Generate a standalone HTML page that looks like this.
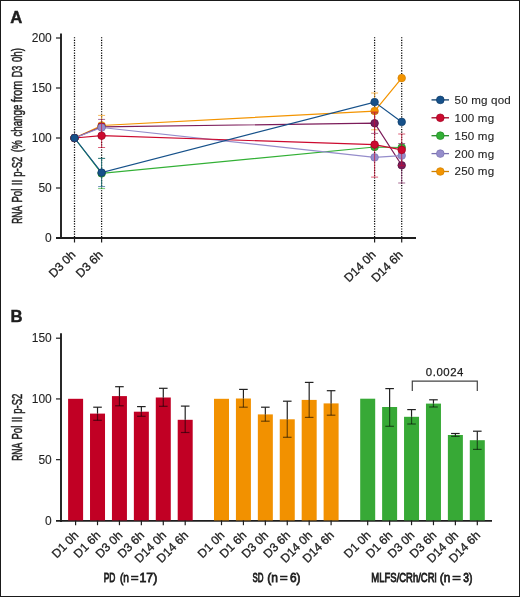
<!DOCTYPE html><html><head><meta charset="utf-8"><style>html,body{margin:0;padding:0;background:#fff;}svg{display:block;will-change:transform;}text{font-family:"Liberation Sans", sans-serif;stroke:#1e1e1e;stroke-width:0.45px;}</style></head><body>
<svg width="520" height="597" viewBox="0 0 520 597">
<rect x="0" y="0" width="520" height="597" fill="#fff"/>
<rect x="0.5" y="0.5" width="519" height="596" fill="none" stroke="#1a1a1a" stroke-width="1"/>
<text x="10.3" y="22.7" font-size="16.7" font-weight="bold" fill="#1e1e1e">A</text>
<line x1="74.5" y1="37.2" x2="74.5" y2="237" stroke="#000" stroke-width="1.25" stroke-dasharray="1.15 1.4"/>
<line x1="101.6" y1="37.2" x2="101.6" y2="237" stroke="#000" stroke-width="1.25" stroke-dasharray="1.15 1.4"/>
<line x1="374.6" y1="37.2" x2="374.6" y2="237" stroke="#000" stroke-width="1.25" stroke-dasharray="1.15 1.4"/>
<line x1="401.7" y1="37.2" x2="401.7" y2="237" stroke="#000" stroke-width="1.25" stroke-dasharray="1.15 1.4"/>
<line x1="61.0" y1="33.5" x2="61.0" y2="239.0" stroke="#1e1e1e" stroke-width="1.9"/>
<line x1="56" y1="238.0" x2="416" y2="238.0" stroke="#1e1e1e" stroke-width="1.9"/>
<text x="51.8" y="242.1" font-size="12" text-anchor="end" fill="#1e1e1e" style="stroke-width:0.1px">0</text>
<line x1="56" y1="188.0" x2="61.0" y2="188.0" stroke="#1e1e1e" stroke-width="1.2"/>
<text x="51.8" y="192.1" font-size="12" text-anchor="end" fill="#1e1e1e" style="stroke-width:0.1px">50</text>
<line x1="56" y1="138.0" x2="61.0" y2="138.0" stroke="#1e1e1e" stroke-width="1.2"/>
<text x="51.8" y="142.1" font-size="12" text-anchor="end" fill="#1e1e1e" style="stroke-width:0.1px">100</text>
<line x1="56" y1="88.0" x2="61.0" y2="88.0" stroke="#1e1e1e" stroke-width="1.2"/>
<text x="51.8" y="92.1" font-size="12" text-anchor="end" fill="#1e1e1e" style="stroke-width:0.1px">150</text>
<line x1="56" y1="38.0" x2="61.0" y2="38.0" stroke="#1e1e1e" stroke-width="1.2"/>
<text x="51.8" y="42.1" font-size="12" text-anchor="end" fill="#1e1e1e" style="stroke-width:0.1px">200</text>
<line x1="74.5" y1="238.0" x2="74.5" y2="242.5" stroke="#1e1e1e" stroke-width="1.2"/>
<line x1="101.6" y1="238.0" x2="101.6" y2="242.5" stroke="#1e1e1e" stroke-width="1.2"/>
<line x1="374.6" y1="238.0" x2="374.6" y2="242.5" stroke="#1e1e1e" stroke-width="1.2"/>
<line x1="401.7" y1="238.0" x2="401.7" y2="242.5" stroke="#1e1e1e" stroke-width="1.2"/>
<text transform="translate(76.3,255.5) rotate(-45)" font-size="12" text-anchor="end" fill="#1e1e1e" style="stroke-width:0.3px">D3 0h</text>
<text transform="translate(103.39999999999999,255.5) rotate(-45)" font-size="12" text-anchor="end" fill="#1e1e1e" style="stroke-width:0.3px">D3 6h</text>
<text transform="translate(376.40000000000003,255.5) rotate(-45)" font-size="12" text-anchor="end" fill="#1e1e1e" style="stroke-width:0.3px">D14 0h</text>
<text transform="translate(403.5,255.5) rotate(-45)" font-size="12" text-anchor="end" fill="#1e1e1e" style="stroke-width:0.3px">D14 6h</text>
<text transform="translate(22.1,223.78) rotate(-90) scale(0.6175,1)" font-size="13.8" fill="#1e1e1e" style="stroke-width:0.4px" vector-effect="non-scaling-stroke">RNA</text>
<text transform="translate(22.1,202.57) rotate(-90) scale(0.6968,1)" font-size="13.8" fill="#1e1e1e" style="stroke-width:0.4px" vector-effect="non-scaling-stroke">Pol</text>
<text transform="translate(22.1,185.14) rotate(-90) scale(0.6763,1)" font-size="13.8" fill="#1e1e1e" style="stroke-width:0.4px" vector-effect="non-scaling-stroke">II</text>
<text transform="translate(22.1,176.83) rotate(-90) scale(0.6974,1)" font-size="13.8" fill="#1e1e1e" style="stroke-width:0.4px" vector-effect="non-scaling-stroke">p-S2</text>
<text transform="translate(22.1,152.29) rotate(-90) scale(0.7182,1)" font-size="13.8" fill="#1e1e1e" style="stroke-width:0.4px" vector-effect="non-scaling-stroke">(%</text>
<text transform="translate(22.1,136.49) rotate(-90) scale(0.7031,1)" font-size="13.8" fill="#1e1e1e" style="stroke-width:0.4px" vector-effect="non-scaling-stroke">change</text>
<text transform="translate(22.1,102.26) rotate(-90) scale(0.7850,1)" font-size="13.8" fill="#1e1e1e" style="stroke-width:0.4px" vector-effect="non-scaling-stroke">from</text>
<text transform="translate(22.1,77.22) rotate(-90) scale(0.6525,1)" font-size="13.8" fill="#1e1e1e" style="stroke-width:0.4px" vector-effect="non-scaling-stroke">D3</text>
<text transform="translate(22.1,62.09) rotate(-90) scale(0.7030,1)" font-size="13.8" fill="#1e1e1e" style="stroke-width:0.4px" vector-effect="non-scaling-stroke">0h)</text>
<g stroke="#32b035" stroke-width="1" opacity="0.65"><line x1="101.6" y1="158.4" x2="101.6" y2="188.6"/><line x1="98.1" y1="158.4" x2="105.1" y2="158.4"/><line x1="98.1" y1="188.6" x2="105.1" y2="188.6"/></g>
<polyline points="74.5,138 101.6,173.4 374.6,147.0 401.7,147.5" fill="none" stroke="#32b035" stroke-width="1.2"/>
<circle cx="74.5" cy="138" r="3.8" fill="#32b035" stroke="#238a26" stroke-width="0.7"/>
<circle cx="101.6" cy="173.4" r="3.8" fill="#32b035" stroke="#238a26" stroke-width="0.7"/>
<circle cx="374.6" cy="147.0" r="3.8" fill="#32b035" stroke="#238a26" stroke-width="0.7"/>
<circle cx="401.7" cy="147.5" r="3.8" fill="#32b035" stroke="#238a26" stroke-width="0.7"/>
<g stroke="#f39400" stroke-width="1" opacity="0.65"><line x1="101.6" y1="115.4" x2="101.6" y2="135.6"/><line x1="98.1" y1="115.4" x2="105.1" y2="115.4"/><line x1="98.1" y1="135.6" x2="105.1" y2="135.6"/></g>
<g stroke="#f39400" stroke-width="1" opacity="0.65"><line x1="374.6" y1="93" x2="374.6" y2="129.8"/><line x1="371.1" y1="93" x2="378.1" y2="93"/><line x1="371.1" y1="129.8" x2="378.1" y2="129.8"/></g>
<polyline points="74.5,138 101.6,125.5 374.6,111.1 401.7,78.1" fill="none" stroke="#f39400" stroke-width="1.2"/>
<circle cx="74.5" cy="138" r="3.8" fill="#f39400" stroke="#d08000" stroke-width="0.7"/>
<circle cx="101.6" cy="125.5" r="3.8" fill="#f39400" stroke="#d08000" stroke-width="0.7"/>
<circle cx="374.6" cy="111.1" r="3.8" fill="#f39400" stroke="#d08000" stroke-width="0.7"/>
<circle cx="401.7" cy="78.1" r="3.8" fill="#f39400" stroke="#d08000" stroke-width="0.7"/>
<g stroke="#7c1c5a" stroke-width="1" opacity="0.65"><line x1="101.6" y1="119.4" x2="101.6" y2="134.2"/><line x1="98.1" y1="119.4" x2="105.1" y2="119.4"/><line x1="98.1" y1="134.2" x2="105.1" y2="134.2"/></g>
<g stroke="#7c1c5a" stroke-width="1" opacity="0.65"><line x1="374.6" y1="113" x2="374.6" y2="133.4"/><line x1="371.1" y1="113" x2="378.1" y2="113"/><line x1="371.1" y1="133.4" x2="378.1" y2="133.4"/></g>
<g stroke="#7c1c5a" stroke-width="1" opacity="0.65"><line x1="401.7" y1="143.5" x2="401.7" y2="183.0"/><line x1="398.2" y1="143.5" x2="405.2" y2="143.5"/><line x1="398.2" y1="183.0" x2="405.2" y2="183.0"/></g>
<polyline points="74.5,138 101.6,126.8 374.6,123.2 401.7,165.3" fill="none" stroke="#7c1c5a" stroke-width="1.2"/>
<circle cx="74.5" cy="138" r="3.8" fill="#7c1c5a" stroke="#4a0a36" stroke-width="0.7"/>
<circle cx="101.6" cy="126.8" r="3.8" fill="#7c1c5a" stroke="#4a0a36" stroke-width="0.7"/>
<circle cx="374.6" cy="123.2" r="3.8" fill="#7c1c5a" stroke="#4a0a36" stroke-width="0.7"/>
<circle cx="401.7" cy="165.3" r="3.8" fill="#7c1c5a" stroke="#4a0a36" stroke-width="0.7"/>
<polyline points="74.5,138 101.6,127.5 374.6,157.4 401.7,155.6" fill="none" stroke="#958dcb" stroke-width="1.2"/>
<circle cx="74.5" cy="138" r="3.8" fill="#958dcb" stroke="#7a72b0" stroke-width="0.7"/>
<circle cx="101.6" cy="127.5" r="3.8" fill="#958dcb" stroke="#7a72b0" stroke-width="0.7"/>
<circle cx="374.6" cy="157.4" r="3.8" fill="#958dcb" stroke="#7a72b0" stroke-width="0.7"/>
<circle cx="401.7" cy="155.6" r="3.8" fill="#958dcb" stroke="#7a72b0" stroke-width="0.7"/>
<g stroke="#cc0a2f" stroke-width="1" opacity="0.65"><line x1="101.6" y1="123.5" x2="101.6" y2="147.5"/><line x1="98.1" y1="123.5" x2="105.1" y2="123.5"/><line x1="98.1" y1="147.5" x2="105.1" y2="147.5"/></g>
<g stroke="#cc0a2f" stroke-width="1" opacity="0.65"><line x1="374.6" y1="112" x2="374.6" y2="177.1"/><line x1="371.1" y1="112" x2="378.1" y2="112"/><line x1="371.1" y1="177.1" x2="378.1" y2="177.1"/></g>
<g stroke="#cc0a2f" stroke-width="1" opacity="0.65"><line x1="401.7" y1="134.0" x2="401.7" y2="165.7"/><line x1="398.2" y1="134.0" x2="405.2" y2="134.0"/><line x1="398.2" y1="165.7" x2="405.2" y2="165.7"/></g>
<polyline points="74.5,138 101.6,135.7 374.6,144.6 401.7,149.9" fill="none" stroke="#cc0a2f" stroke-width="1.2"/>
<circle cx="74.5" cy="138" r="3.8" fill="#cc0a2f" stroke="#a00020" stroke-width="0.7"/>
<circle cx="101.6" cy="135.7" r="3.8" fill="#cc0a2f" stroke="#a00020" stroke-width="0.7"/>
<circle cx="374.6" cy="144.6" r="3.8" fill="#cc0a2f" stroke="#a00020" stroke-width="0.7"/>
<circle cx="401.7" cy="149.9" r="3.8" fill="#cc0a2f" stroke="#a00020" stroke-width="0.7"/>
<g stroke="#16518a" stroke-width="1" opacity="0.65"><line x1="101.6" y1="158.4" x2="101.6" y2="186.6"/><line x1="98.1" y1="158.4" x2="105.1" y2="158.4"/><line x1="98.1" y1="186.6" x2="105.1" y2="186.6"/></g>
<polyline points="74.5,138 101.6,172.6 374.6,102.1 401.7,121.9" fill="none" stroke="#16518a" stroke-width="1.2"/>
<circle cx="74.5" cy="138" r="3.8" fill="#16518a" stroke="#0e3c68" stroke-width="0.7"/>
<circle cx="101.6" cy="172.6" r="3.8" fill="#16518a" stroke="#0e3c68" stroke-width="0.7"/>
<circle cx="374.6" cy="102.1" r="3.8" fill="#16518a" stroke="#0e3c68" stroke-width="0.7"/>
<circle cx="401.7" cy="121.9" r="3.8" fill="#16518a" stroke="#0e3c68" stroke-width="0.7"/>
<line x1="431.5" y1="99.9" x2="449" y2="99.9" stroke="#0e3c68" stroke-width="1.3"/>
<circle cx="440.3" cy="99.9" r="3.85" fill="#16518a" stroke="#0e3c68" stroke-width="0.7"/>
<text x="454.6" y="103.80000000000001" font-size="11.6" letter-spacing="0.17" fill="#1e1e1e" style="stroke-width:0.1px">50 mg qod</text>
<line x1="431.5" y1="117.80000000000001" x2="449" y2="117.80000000000001" stroke="#a00020" stroke-width="1.3"/>
<circle cx="440.3" cy="117.80000000000001" r="3.85" fill="#cc0a2f" stroke="#a00020" stroke-width="0.7"/>
<text x="454.6" y="121.70000000000002" font-size="11.6" letter-spacing="0.17" fill="#1e1e1e" style="stroke-width:0.1px">100 mg</text>
<line x1="431.5" y1="135.7" x2="449" y2="135.7" stroke="#238a26" stroke-width="1.3"/>
<circle cx="440.3" cy="135.7" r="3.85" fill="#32b035" stroke="#238a26" stroke-width="0.7"/>
<text x="454.6" y="139.6" font-size="11.6" letter-spacing="0.17" fill="#1e1e1e" style="stroke-width:0.1px">150 mg</text>
<line x1="431.5" y1="153.6" x2="449" y2="153.6" stroke="#7a72b0" stroke-width="1.3"/>
<circle cx="440.3" cy="153.6" r="3.85" fill="#958dcb" stroke="#7a72b0" stroke-width="0.7"/>
<text x="454.6" y="157.5" font-size="11.6" letter-spacing="0.17" fill="#1e1e1e" style="stroke-width:0.1px">200 mg</text>
<line x1="431.5" y1="171.5" x2="449" y2="171.5" stroke="#d08000" stroke-width="1.3"/>
<circle cx="440.3" cy="171.5" r="3.85" fill="#f39400" stroke="#d08000" stroke-width="0.7"/>
<text x="454.6" y="175.4" font-size="11.6" letter-spacing="0.17" fill="#1e1e1e" style="stroke-width:0.1px">250 mg</text>
<text x="10.6" y="322" font-size="16.7" font-weight="bold" fill="#1e1e1e">B</text>
<line x1="61.0" y1="333.3" x2="61.0" y2="521.9" stroke="#1e1e1e" stroke-width="1.9"/>
<line x1="56" y1="520.9" x2="492" y2="520.9" stroke="#1e1e1e" stroke-width="1.9"/>
<text x="51.8" y="524.5" font-size="12" text-anchor="end" fill="#1e1e1e" style="stroke-width:0.1px">0</text>
<line x1="56" y1="459.66666666666663" x2="61.0" y2="459.66666666666663" stroke="#1e1e1e" stroke-width="1.2"/>
<text x="51.8" y="463.76666666666665" font-size="12" text-anchor="end" fill="#1e1e1e" style="stroke-width:0.1px">50</text>
<line x1="56" y1="398.93333333333334" x2="61.0" y2="398.93333333333334" stroke="#1e1e1e" stroke-width="1.2"/>
<text x="51.8" y="403.03333333333336" font-size="12" text-anchor="end" fill="#1e1e1e" style="stroke-width:0.1px">100</text>
<line x1="56" y1="338.2" x2="61.0" y2="338.2" stroke="#1e1e1e" stroke-width="1.2"/>
<text x="51.8" y="342.3" font-size="12" text-anchor="end" fill="#1e1e1e" style="stroke-width:0.1px">150</text>
<text transform="translate(22.1,460.78) rotate(-90) scale(0.6175,1)" font-size="13.8" fill="#1e1e1e" style="stroke-width:0.4px" vector-effect="non-scaling-stroke">RNA</text>
<text transform="translate(22.1,439.57) rotate(-90) scale(0.6968,1)" font-size="13.8" fill="#1e1e1e" style="stroke-width:0.4px" vector-effect="non-scaling-stroke">Pol</text>
<text transform="translate(22.1,422.14) rotate(-90) scale(0.6763,1)" font-size="13.8" fill="#1e1e1e" style="stroke-width:0.4px" vector-effect="non-scaling-stroke">II</text>
<text transform="translate(22.1,413.83) rotate(-90) scale(0.6974,1)" font-size="13.8" fill="#1e1e1e" style="stroke-width:0.4px" vector-effect="non-scaling-stroke">p-S2</text>
<rect x="68.10" y="398.8" width="15.0" height="121.60" fill="#c10024"/>
<line x1="75.6" y1="520.4" x2="75.6" y2="525.1999999999999" stroke="#1e1e1e" stroke-width="1.2"/>
<text transform="translate(79.3,536.1) rotate(-45)" font-size="12" text-anchor="end" fill="#1e1e1e" style="stroke-width:0.3px">D1 0h</text>
<rect x="90.02" y="413.6" width="15.0" height="106.80" fill="#c10024"/>
<g stroke="#222" stroke-width="1.2"><line x1="97.52" y1="407.2" x2="97.52" y2="413.6"/><line x1="93.22" y1="407.2" x2="101.82" y2="407.2"/></g>
<g stroke="#000" stroke-opacity="0.55" stroke-width="1.2"><line x1="97.52" y1="413.6" x2="97.52" y2="420.3"/><line x1="93.22" y1="420.3" x2="101.82" y2="420.3"/></g>
<line x1="97.52" y1="520.4" x2="97.52" y2="525.1999999999999" stroke="#1e1e1e" stroke-width="1.2"/>
<text transform="translate(101.22,536.1) rotate(-45)" font-size="12" text-anchor="end" fill="#1e1e1e" style="stroke-width:0.3px">D1 6h</text>
<rect x="111.94" y="396.1" width="15.0" height="124.30" fill="#c10024"/>
<g stroke="#222" stroke-width="1.2"><line x1="119.44" y1="386.7" x2="119.44" y2="396.1"/><line x1="115.14" y1="386.7" x2="123.74" y2="386.7"/></g>
<g stroke="#000" stroke-opacity="0.55" stroke-width="1.2"><line x1="119.44" y1="396.1" x2="119.44" y2="405.8"/><line x1="115.14" y1="405.8" x2="123.74" y2="405.8"/></g>
<line x1="119.44" y1="520.4" x2="119.44" y2="525.1999999999999" stroke="#1e1e1e" stroke-width="1.2"/>
<text transform="translate(123.14,536.1) rotate(-45)" font-size="12" text-anchor="end" fill="#1e1e1e" style="stroke-width:0.3px">D3 0h</text>
<rect x="133.86" y="411.7" width="15.0" height="108.70" fill="#c10024"/>
<g stroke="#222" stroke-width="1.2"><line x1="141.36" y1="406.6" x2="141.36" y2="411.7"/><line x1="137.06" y1="406.6" x2="145.66000000000003" y2="406.6"/></g>
<g stroke="#000" stroke-opacity="0.55" stroke-width="1.2"><line x1="141.36" y1="411.7" x2="141.36" y2="416.3"/><line x1="137.06" y1="416.3" x2="145.66000000000003" y2="416.3"/></g>
<line x1="141.36" y1="520.4" x2="141.36" y2="525.1999999999999" stroke="#1e1e1e" stroke-width="1.2"/>
<text transform="translate(145.06,536.1) rotate(-45)" font-size="12" text-anchor="end" fill="#1e1e1e" style="stroke-width:0.3px">D3 6h</text>
<rect x="155.78" y="397.5" width="15.0" height="122.90" fill="#c10024"/>
<g stroke="#222" stroke-width="1.2"><line x1="163.28" y1="388.3" x2="163.28" y2="397.5"/><line x1="158.98" y1="388.3" x2="167.58" y2="388.3"/></g>
<g stroke="#000" stroke-opacity="0.55" stroke-width="1.2"><line x1="163.28" y1="397.5" x2="163.28" y2="406.3"/><line x1="158.98" y1="406.3" x2="167.58" y2="406.3"/></g>
<line x1="163.28" y1="520.4" x2="163.28" y2="525.1999999999999" stroke="#1e1e1e" stroke-width="1.2"/>
<text transform="translate(166.98,536.1) rotate(-45)" font-size="12" text-anchor="end" fill="#1e1e1e" style="stroke-width:0.3px">D14 0h</text>
<rect x="177.70" y="419.8" width="15.0" height="100.60" fill="#c10024"/>
<g stroke="#222" stroke-width="1.2"><line x1="185.2" y1="406.1" x2="185.2" y2="419.8"/><line x1="180.89999999999998" y1="406.1" x2="189.5" y2="406.1"/></g>
<g stroke="#000" stroke-opacity="0.55" stroke-width="1.2"><line x1="185.2" y1="419.8" x2="185.2" y2="432.5"/><line x1="180.89999999999998" y1="432.5" x2="189.5" y2="432.5"/></g>
<line x1="185.2" y1="520.4" x2="185.2" y2="525.1999999999999" stroke="#1e1e1e" stroke-width="1.2"/>
<text transform="translate(188.89999999999998,536.1) rotate(-45)" font-size="12" text-anchor="end" fill="#1e1e1e" style="stroke-width:0.3px">D14 6h</text>
<text transform="translate(103.73,582.1) scale(0.6186,1)" font-size="13.6" fill="#1e1e1e" style="stroke-width:0.75px" vector-effect="non-scaling-stroke">PD</text>
<text transform="translate(119.89,582.1) scale(0.7497,1)" font-size="13.6" fill="#1e1e1e" style="stroke-width:0.75px" vector-effect="non-scaling-stroke">(n</text>
<text transform="translate(130.39,582.1) scale(1.0461,1)" font-size="13.6" fill="#1e1e1e" style="stroke-width:0.35px">=</text>
<text transform="translate(139.47,582.1) scale(0.9071,1)" font-size="13.6" fill="#1e1e1e" style="stroke-width:0.75px" vector-effect="non-scaling-stroke">17)</text>
<rect x="214.00" y="398.8" width="15.0" height="121.60" fill="#f29100"/>
<line x1="221.5" y1="520.4" x2="221.5" y2="525.1999999999999" stroke="#1e1e1e" stroke-width="1.2"/>
<text transform="translate(225.2,536.1) rotate(-45)" font-size="12" text-anchor="end" fill="#1e1e1e" style="stroke-width:0.3px">D1 0h</text>
<rect x="235.92" y="398.5" width="15.0" height="121.90" fill="#f29100"/>
<g stroke="#222" stroke-width="1.2"><line x1="243.42000000000002" y1="389.4" x2="243.42000000000002" y2="398.5"/><line x1="239.12" y1="389.4" x2="247.72000000000003" y2="389.4"/></g>
<g stroke="#000" stroke-opacity="0.55" stroke-width="1.2"><line x1="243.42000000000002" y1="398.5" x2="243.42000000000002" y2="407.2"/><line x1="239.12" y1="407.2" x2="247.72000000000003" y2="407.2"/></g>
<line x1="243.42000000000002" y1="520.4" x2="243.42000000000002" y2="525.1999999999999" stroke="#1e1e1e" stroke-width="1.2"/>
<text transform="translate(247.12,536.1) rotate(-45)" font-size="12" text-anchor="end" fill="#1e1e1e" style="stroke-width:0.3px">D1 6h</text>
<rect x="257.84" y="414.4" width="15.0" height="106.00" fill="#f29100"/>
<g stroke="#222" stroke-width="1.2"><line x1="265.34000000000003" y1="407.2" x2="265.34000000000003" y2="414.4"/><line x1="261.04" y1="407.2" x2="269.64000000000004" y2="407.2"/></g>
<g stroke="#000" stroke-opacity="0.55" stroke-width="1.2"><line x1="265.34000000000003" y1="414.4" x2="265.34000000000003" y2="421.2"/><line x1="261.04" y1="421.2" x2="269.64000000000004" y2="421.2"/></g>
<line x1="265.34000000000003" y1="520.4" x2="265.34000000000003" y2="525.1999999999999" stroke="#1e1e1e" stroke-width="1.2"/>
<text transform="translate(269.04,536.1) rotate(-45)" font-size="12" text-anchor="end" fill="#1e1e1e" style="stroke-width:0.3px">D3 0h</text>
<rect x="279.76" y="419.3" width="15.0" height="101.10" fill="#f29100"/>
<g stroke="#222" stroke-width="1.2"><line x1="287.26" y1="401.2" x2="287.26" y2="419.3"/><line x1="282.96" y1="401.2" x2="291.56" y2="401.2"/></g>
<g stroke="#000" stroke-opacity="0.55" stroke-width="1.2"><line x1="287.26" y1="419.3" x2="287.26" y2="437.3"/><line x1="282.96" y1="437.3" x2="291.56" y2="437.3"/></g>
<line x1="287.26" y1="520.4" x2="287.26" y2="525.1999999999999" stroke="#1e1e1e" stroke-width="1.2"/>
<text transform="translate(290.96,536.1) rotate(-45)" font-size="12" text-anchor="end" fill="#1e1e1e" style="stroke-width:0.3px">D3 6h</text>
<rect x="301.68" y="399.9" width="15.0" height="120.50" fill="#f29100"/>
<g stroke="#222" stroke-width="1.2"><line x1="309.18" y1="382.4" x2="309.18" y2="399.9"/><line x1="304.88" y1="382.4" x2="313.48" y2="382.4"/></g>
<g stroke="#000" stroke-opacity="0.55" stroke-width="1.2"><line x1="309.18" y1="399.9" x2="309.18" y2="417.4"/><line x1="304.88" y1="417.4" x2="313.48" y2="417.4"/></g>
<line x1="309.18" y1="520.4" x2="309.18" y2="525.1999999999999" stroke="#1e1e1e" stroke-width="1.2"/>
<text transform="translate(312.88,536.1) rotate(-45)" font-size="12" text-anchor="end" fill="#1e1e1e" style="stroke-width:0.3px">D14 0h</text>
<rect x="323.60" y="403.4" width="15.0" height="117.00" fill="#f29100"/>
<g stroke="#222" stroke-width="1.2"><line x1="331.1" y1="390.7" x2="331.1" y2="403.4"/><line x1="326.8" y1="390.7" x2="335.40000000000003" y2="390.7"/></g>
<g stroke="#000" stroke-opacity="0.55" stroke-width="1.2"><line x1="331.1" y1="403.4" x2="331.1" y2="415.2"/><line x1="326.8" y1="415.2" x2="335.40000000000003" y2="415.2"/></g>
<line x1="331.1" y1="520.4" x2="331.1" y2="525.1999999999999" stroke="#1e1e1e" stroke-width="1.2"/>
<text transform="translate(334.8,536.1) rotate(-45)" font-size="12" text-anchor="end" fill="#1e1e1e" style="stroke-width:0.3px">D14 6h</text>
<text transform="translate(252.44,582.1) scale(0.5848,1)" font-size="13.6" fill="#1e1e1e" style="stroke-width:0.75px" vector-effect="non-scaling-stroke">SD</text>
<text transform="translate(267.18,582.1) scale(0.8843,1)" font-size="13.6" fill="#1e1e1e" style="stroke-width:0.75px" vector-effect="non-scaling-stroke">(n</text>
<text transform="translate(279.58,582.1) scale(1.0612,1)" font-size="13.6" fill="#1e1e1e" style="stroke-width:0.35px">=</text>
<text transform="translate(289.91,582.1) scale(0.8729,1)" font-size="13.6" fill="#1e1e1e" style="stroke-width:0.75px" vector-effect="non-scaling-stroke">6)</text>
<rect x="360.20" y="398.7" width="15.0" height="121.70" fill="#37a936"/>
<line x1="367.7" y1="520.4" x2="367.7" y2="525.1999999999999" stroke="#1e1e1e" stroke-width="1.2"/>
<text transform="translate(371.4,536.1) rotate(-45)" font-size="12" text-anchor="end" fill="#1e1e1e" style="stroke-width:0.3px">D1 0h</text>
<rect x="382.12" y="407" width="15.0" height="113.40" fill="#37a936"/>
<g stroke="#222" stroke-width="1.2"><line x1="389.62" y1="388.6" x2="389.62" y2="407"/><line x1="385.32" y1="388.6" x2="393.92" y2="388.6"/></g>
<g stroke="#000" stroke-opacity="0.55" stroke-width="1.2"><line x1="389.62" y1="407" x2="389.62" y2="426.3"/><line x1="385.32" y1="426.3" x2="393.92" y2="426.3"/></g>
<line x1="389.62" y1="520.4" x2="389.62" y2="525.1999999999999" stroke="#1e1e1e" stroke-width="1.2"/>
<text transform="translate(393.32,536.1) rotate(-45)" font-size="12" text-anchor="end" fill="#1e1e1e" style="stroke-width:0.3px">D1 6h</text>
<rect x="404.04" y="416.8" width="15.0" height="103.60" fill="#37a936"/>
<g stroke="#222" stroke-width="1.2"><line x1="411.53999999999996" y1="409.6" x2="411.53999999999996" y2="416.8"/><line x1="407.23999999999995" y1="409.6" x2="415.84" y2="409.6"/></g>
<g stroke="#000" stroke-opacity="0.55" stroke-width="1.2"><line x1="411.53999999999996" y1="416.8" x2="411.53999999999996" y2="424"/><line x1="407.23999999999995" y1="424" x2="415.84" y2="424"/></g>
<line x1="411.53999999999996" y1="520.4" x2="411.53999999999996" y2="525.1999999999999" stroke="#1e1e1e" stroke-width="1.2"/>
<text transform="translate(415.23999999999995,536.1) rotate(-45)" font-size="12" text-anchor="end" fill="#1e1e1e" style="stroke-width:0.3px">D3 0h</text>
<rect x="425.96" y="403.6" width="15.0" height="116.80" fill="#37a936"/>
<g stroke="#222" stroke-width="1.2"><line x1="433.46" y1="399.8" x2="433.46" y2="403.6"/><line x1="429.15999999999997" y1="399.8" x2="437.76" y2="399.8"/></g>
<g stroke="#000" stroke-opacity="0.55" stroke-width="1.2"><line x1="433.46" y1="403.6" x2="433.46" y2="407"/><line x1="429.15999999999997" y1="407" x2="437.76" y2="407"/></g>
<line x1="433.46" y1="520.4" x2="433.46" y2="525.1999999999999" stroke="#1e1e1e" stroke-width="1.2"/>
<text transform="translate(437.15999999999997,536.1) rotate(-45)" font-size="12" text-anchor="end" fill="#1e1e1e" style="stroke-width:0.3px">D3 6h</text>
<rect x="447.88" y="435" width="15.0" height="85.40" fill="#37a936"/>
<g stroke="#222" stroke-width="1.2"><line x1="455.38" y1="433.5" x2="455.38" y2="435"/><line x1="451.08" y1="433.5" x2="459.68" y2="433.5"/></g>
<g stroke="#000" stroke-opacity="0.55" stroke-width="1.2"><line x1="455.38" y1="435" x2="455.38" y2="436.4"/><line x1="451.08" y1="436.4" x2="459.68" y2="436.4"/></g>
<line x1="455.38" y1="520.4" x2="455.38" y2="525.1999999999999" stroke="#1e1e1e" stroke-width="1.2"/>
<text transform="translate(459.08,536.1) rotate(-45)" font-size="12" text-anchor="end" fill="#1e1e1e" style="stroke-width:0.3px">D14 0h</text>
<rect x="469.80" y="440.2" width="15.0" height="80.20" fill="#37a936"/>
<g stroke="#222" stroke-width="1.2"><line x1="477.3" y1="431.2" x2="477.3" y2="440.2"/><line x1="473.0" y1="431.2" x2="481.6" y2="431.2"/></g>
<g stroke="#000" stroke-opacity="0.55" stroke-width="1.2"><line x1="477.3" y1="440.2" x2="477.3" y2="449.4"/><line x1="473.0" y1="449.4" x2="481.6" y2="449.4"/></g>
<line x1="477.3" y1="520.4" x2="477.3" y2="525.1999999999999" stroke="#1e1e1e" stroke-width="1.2"/>
<text transform="translate(481.0,536.1) rotate(-45)" font-size="12" text-anchor="end" fill="#1e1e1e" style="stroke-width:0.3px">D14 6h</text>
<text transform="translate(371.34,582.1) scale(0.6977,1)" font-size="13.6" fill="#1e1e1e" style="stroke-width:0.75px" vector-effect="non-scaling-stroke">MLFS/CRh/CRi</text>
<text transform="translate(439.79,582.1) scale(0.8747,1)" font-size="13.6" fill="#1e1e1e" style="stroke-width:0.75px" vector-effect="non-scaling-stroke">(n</text>
<text transform="translate(452.02,582.1) scale(1.1522,1)" font-size="13.6" fill="#1e1e1e" style="stroke-width:0.35px">=</text>
<text transform="translate(463.19,582.1) scale(0.7587,1)" font-size="13.6" fill="#1e1e1e" style="stroke-width:0.75px" vector-effect="non-scaling-stroke">3)</text>
<path d="M412.3,391 V381.2 H477.3 V391" fill="none" stroke="#444" stroke-width="1.2"/>
<text x="444.9" y="375.8" font-size="11.4" text-anchor="middle" letter-spacing="0.55" fill="#1e1e1e" style="stroke-width:0.25px">0.0024</text>
</svg></body></html>
